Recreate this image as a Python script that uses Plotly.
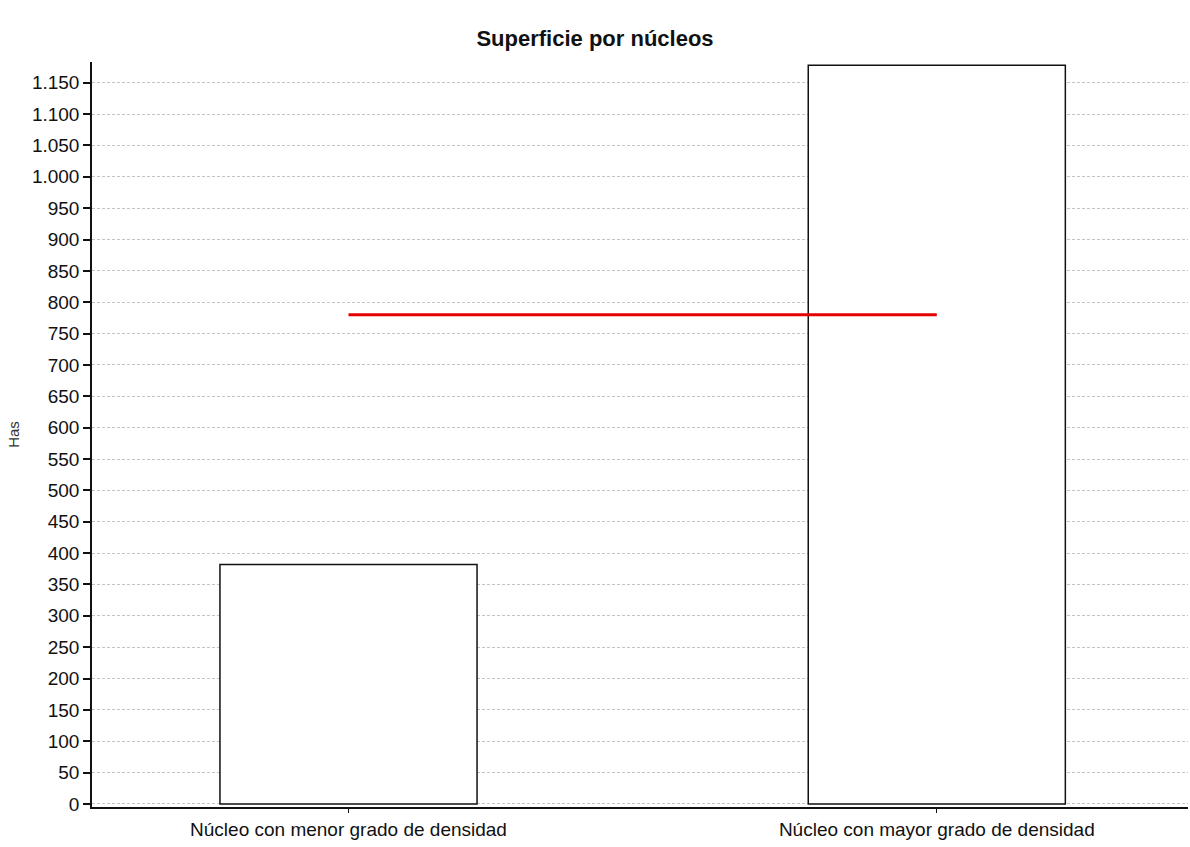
import plotly.graph_objects as go

categories = ["Núcleo con menor grado de densidad", "Núcleo con mayor grado de densidad"]
superficie = [382, 1178]
promedio = [780, 780]
y_ticks = list(range(0, 1151, 50))

fig = go.Figure()
fig.add_trace(go.Bar(
    x=categories, y=superficie, width=0.437,
    marker=dict(color="white", line=dict(color="#111111", width=1.5)),
    showlegend=False, hoverinfo="y"))
fig.add_trace(go.Scatter(
    x=categories, y=promedio, mode="lines",
    line=dict(color="#e60000", width=3), showlegend=False))

fig.update_layout(
    width=1190, height=847,
    margin=dict(l=92, r=2, t=62, b=40),
    paper_bgcolor="white", plot_bgcolor="white",
    separators=",.",
    font=dict(family="Liberation Sans, Arial, sans-serif", color="#111111"),
    title=dict(text="<b>Superficie por núcleos</b>", x=0.5, xref="container",
               y=0.955, yref="container", xanchor="center", yanchor="middle",
               font=dict(size=22, color="#111111")),
)
fig.update_xaxes(
    range=[-0.436, 1.427], showgrid=False, zeroline=False,
    showline=True, linecolor="#111111", linewidth=2,
    ticks="outside", ticklen=4, tickcolor="#111111", tickwidth=1,
    tickfont=dict(size=19, color="#111111"))
fig.update_yaxes(
    range=[-4.8, 1183], tickvals=y_ticks, tickformat=",d",
    showgrid=True, gridcolor="#c4c4c4", griddash="3px,2px", gridwidth=1,
    zeroline=False, showline=True, linecolor="#111111", linewidth=1.5,
    ticks="outside", ticklen=7, tickcolor="#111111", tickwidth=1.5,
    tickfont=dict(size=19, color="#111111"),
    title=dict(text="Has", font=dict(size=15, color="#333333"), standoff=9))

fig.write_html("out.html", config={"displayModeBar": False},
               post_script="document.body.style.margin='0';")
